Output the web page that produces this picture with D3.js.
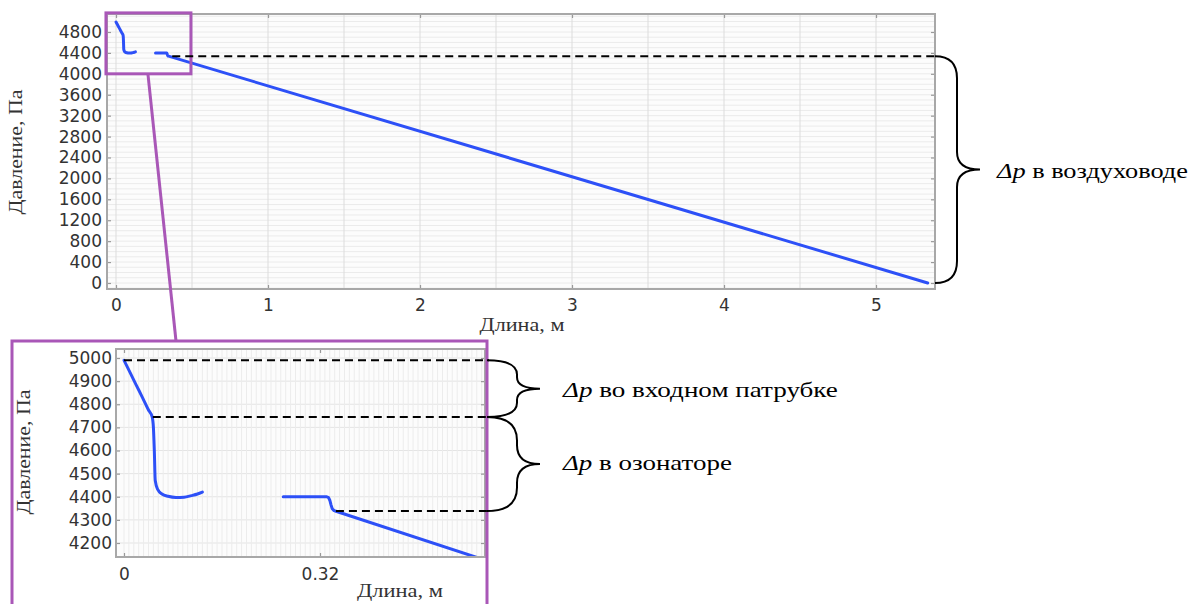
<!DOCTYPE html>
<html><head><meta charset="utf-8">
<script src="https://cdn.jsdelivr.net/npm/d3@7"></script>
<style>
body{margin:0;background:#fff;}
svg{display:block;}
</style></head>
<body>
<svg id="c" width="1197" height="604"></svg>
<script>
// ---- data ----
const seg1X = [0, 0.01, 0.02, 0.03, 0.04, 0.046, 0.048, 0.0495, 0.051, 0.055, 0.062, 0.072, 0.085, 0.098, 0.11, 0.12, 0.128];
const seg1Y = [4990, 4937, 4883, 4830, 4775, 4745, 4700, 4600, 4470, 4432, 4412, 4402, 4397, 4398, 4405, 4412, 4420];
const seg2X = [0.26, 0.30, 0.331, 0.334, 0.336, 0.338, 0.340, 0.343, 0.346, 5.34];
const seg2Y = [4400, 4400, 4400, 4396, 4385, 4365, 4348, 4340, 4337.5, 0];
const mainYTicks = [0, 400, 800, 1200, 1600, 2000, 2400, 2800, 3200, 3600, 4000, 4400, 4800];
const mainXTicks = [0, 1, 2, 3, 4, 5];
const insetYTicks = [4200, 4300, 4400, 4500, 4600, 4700, 4800, 4900, 5000];
const insetXTicks = [0, 0.32];
const levelInlet = 4990, levelOzon = 4745, levelDuct = 4338;
const labelY = "Давление, Па", labelX = "Длина, м";
const notes = [" во входном патрубке", " в озонаторе", " в воздуховоде"];

const svg = d3.select("#c");
const blue = "#2d50f7", purple = "#a957b7";
const sans = "'DejaVu Sans', sans-serif", serif = "'Liberation Serif','Times New Roman',serif";

const pts1 = seg1X.map((x,i)=>[x, seg1Y[i]]);
const pts2 = seg2X.map((x,i)=>[x, seg2Y[i]]);

function panel(id, box, xDom, yDom, opt) {
  const x = d3.scaleLinear().domain(xDom).range([box.l, box.r]);
  const y = d3.scaleLinear().domain(yDom).range([box.b, box.t]);
  const g = svg.append("g");
  g.append("defs").append("clipPath").attr("id", id)
    .append("rect").attr("x", box.l).attr("y", box.t).attr("width", box.r-box.l).attr("height", box.b-box.t);
  g.append("rect").attr("x", box.l).attr("y", box.t).attr("width", box.r-box.l).attr("height", box.b-box.t).attr("fill", "#fcfcfc");
  const gg = g.append("g").attr("clip-path", `url(#${id})`);
  gg.selectAll(".hg").data(d3.range(opt.hMin[0], opt.hMin[1], opt.hMin[2])).join("line")
    .attr("x1", box.l).attr("x2", box.r).attr("y1", d=>y(d)).attr("y2", d=>y(d))
    .attr("stroke", opt.hCol).attr("stroke-width", 1);
  gg.selectAll(".vg").data(d3.range(opt.vMin[0], opt.vMin[1], opt.vMin[2])).join("line")
    .attr("y1", box.t).attr("y2", box.b).attr("x1", d=>x(d)).attr("x2", d=>x(d))
    .attr("stroke", opt.vCol).attr("stroke-width", 1);
  const line1 = d3.line().x(d=>x(d[0])).y(d=>y(d[1])).curve(d3.curveMonotoneX);
  const line2 = d3.line().x(d=>x(d[0])).y(d=>y(d[1]));
  [[pts1, line1], [pts2, line2]].forEach(([p, ln]) => gg.append("path").attr("d", ln(p)).attr("fill","none")
    .attr("stroke", blue).attr("stroke-width", 3).attr("stroke-linejoin","round").attr("stroke-linecap","round"));
  // axes
  const ax = [
    g.append("g").attr("transform", `translate(${box.l},0)`).call(d3.axisLeft(y).tickValues(opt.yT).tickSize(-4).tickPadding(opt.padL).tickFormat(d=>String(d))),
    g.append("g").attr("transform", `translate(0,${box.b})`).call(d3.axisBottom(x).tickValues(opt.xT).tickSize(-4).tickPadding(opt.padB).tickFormat(d=>String(d))),
    g.append("g").attr("transform", `translate(${box.r},0)`).call(d3.axisRight(y).tickValues(opt.yT).tickSize(-4).tickFormat("")),
    g.append("g").attr("transform", `translate(0,${box.t})`).call(d3.axisTop(x).tickValues(opt.xT).tickSize(-4).tickFormat(""))
  ];
  ax.forEach(a => {
    a.select(".domain").remove();
    a.selectAll(".tick line").attr("stroke", "#999").attr("stroke-width", 1.2);
    a.selectAll(".tick text").attr("font-family", sans).attr("font-size", 17).attr("fill", "#333");
  });
  g.append("rect").attr("x", box.l).attr("y", box.t).attr("width", box.r-box.l).attr("height", box.b-box.t)
    .attr("fill", "none").attr("stroke", "#a8a8a8").attr("stroke-width", 2);
  return {x, y, g};
}

function stretchText(sel, target) {
  const w = sel.node().getComputedTextLength();
  return w ? target / w : 1;
}
function label(text, cx, cy, len, rot) {
  const t = svg.append("text").attr("font-family", serif).attr("font-size", 18).attr("fill", "#333")
    .attr("text-anchor", "middle").text(text);
  const s = stretchText(t, len);
  t.attr("transform", `translate(${cx},${cy}) rotate(${rot}) scale(${s},1)`);
}

// ---- main chart ----
const M = panel("cm", {l:107, r:935, t:14, b:289}, [-0.0592, 5.388], [-115, 5144], {
  hMin:[-100, 5200, 100], hCol:"#ebebeb", vMin:[0, 5.5, 0.5], vCol:"#dcdcdc",
  yT: mainYTicks, xT: mainXTicks, padL: 5, padB: 10
});
// ---- inset chart ----
const I = panel("ci", {l:116, r:485, t:349, b:557}, [-0.01306, 0.5894], [4139.5, 5039], {
  hMin:[4100, 5100, 100], hCol:"#e4e4e4", vMin:[0, 0.6, 0.008], vCol:"#ececec",
  yT: insetYTicks, xT: insetXTicks, padL: 4, padB: 11
});

label(labelY, 22, 152, 125, -90);
label(labelX, 522, 331, 85, 0);
label(labelY, 30, 452, 125, -90);
label(labelX, 400, 597, 86, 0);

// zoom marker rectangle, connector, inset frame
svg.append("rect").attr("x", M.x(-0.066)).attr("y", M.y(5165)).attr("width", M.x(0.493)-M.x(-0.066))
  .attr("height", M.y(4000)-M.y(5165)).attr("fill","none").attr("stroke", purple).attr("stroke-width", 3);
svg.append("line").attr("x1", M.x(0.21)).attr("y1", M.y(4000)).attr("x2", 176).attr("y2", 341)
  .attr("stroke", purple).attr("stroke-width", 3);
svg.append("rect").attr("x", 12).attr("y", 341).attr("width", 475).attr("height", 280)
  .attr("fill","none").attr("stroke", purple).attr("stroke-width", 3);

// dashed level lines
const dash = (x1,y,x2) => svg.append("line").attr("x1",x1).attr("x2",x2).attr("y1",y).attr("y2",y)
  .attr("stroke","#000").attr("stroke-width",2).attr("stroke-dasharray","8,5");
dash(M.x(0.37), M.y(levelDuct), 935);
dash(I.x(0), I.y(levelInlet), 489);
dash(I.x(0.047), I.y(levelOzon), 489);
dash(I.x(0.346), I.y(levelDuct), 489);

// braces
function brace(x0, y1, y2, xm, xt) {
  const mid = (y1+y2)/2, r = Math.min(xm-x0, (y2-y1)/4);
  const p = `M${x0},${y1} Q${xm},${y1} ${xm},${y1+r} L${xm},${mid-r*0.8} Q${xm},${mid} ${xt},${mid}`
    + ` Q${xm},${mid} ${xm},${mid+r*0.8} L${xm},${y2-r} Q${xm},${y2} ${x0},${y2}`;
  svg.append("path").attr("d", p).attr("fill","none").attr("stroke","#000").attr("stroke-width",2);
  return mid;
}
const m1 = brace(935, M.y(levelDuct), M.y(0), 957, 980);
const m2 = brace(487, I.y(levelInlet), I.y(levelOzon), 517, 540);
const m3 = brace(487, I.y(levelOzon), I.y(levelDuct), 517, 540);

function note(txt, x, y, len) {
  const t = svg.append("text").attr("font-family", serif).attr("font-size", 22).attr("fill", "#000");
  t.append("tspan").attr("font-style","italic").text("Δp");
  t.append("tspan").text(txt);
  const s = stretchText(t, len);
  t.attr("transform", `translate(${x},${y}) scale(${s},1)`);
}
note(notes[2], 997, m1+8, 191);
note(notes[0], 563, m2+8, 275);
note(notes[1], 563, m3+6, 169);
</script>
</body></html>
